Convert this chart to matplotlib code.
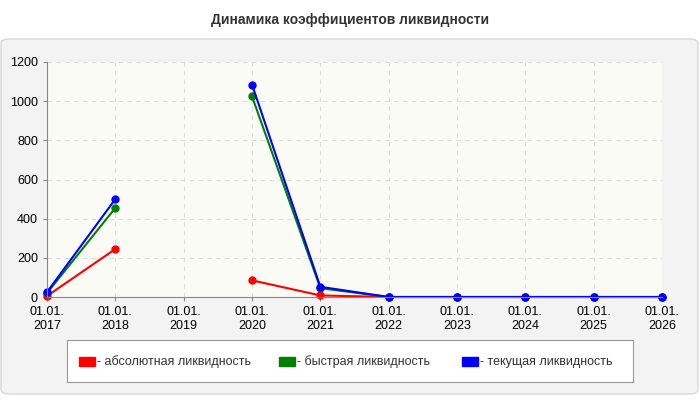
import numpy as np
import matplotlib
matplotlib.use("Agg")
import matplotlib.pyplot as plt
from matplotlib.patches import FancyBboxPatch

plt.rcParams["font.family"] = ["Liberation Sans", "DejaVu Sans"]

years = ["01.01.\n2017", "01.01.\n2018", "01.01.\n2019", "01.01.\n2020", "01.01.\n2021",
         "01.01.\n2022", "01.01.\n2023", "01.01.\n2024", "01.01.\n2025", "01.01.\n2026"]
absolute = [5, 245, np.nan, 85, 8, 0, 0, 0, 0, 0]
quick = [20, 455, np.nan, 1025, 45, 0, 0, 0, 0, 0]
current = [25, 500, np.nan, 1085, 52, 0, 0, 0, 0, 0]
labels = ["- абсолютная ликвидность", "- быстрая ликвидность", "- текущая ликвидность"]
colors = ["#ff0000", "#008000", "#0000ff"]

W, H = 700, 400
fig = plt.figure(figsize=(7, 4), dpi=100)
fig.patch.set_facecolor("white")

panel = FancyBboxPatch((1 / W, 6 / H), 697 / W, 355 / H, boxstyle="round,pad=0,rounding_size=0.012",
                       transform=fig.transFigure, facecolor="#f3f3f3", edgecolor="#d8d8d8", lw=1,
                       zorder=-10)
fig.patches.append(panel)
fig.text(0.5, 1 - 20 / H, "Динамика коэффициентов ликвидности", ha="center", va="center",
         fontsize=10, fontweight="bold", color="#333333")

ax = fig.add_axes([47 / W, 1 - 297 / H, 615 / W, 235 / H])
ax.set_facecolor("#fbfbf6")
x = np.arange(len(years))
for vals, c in zip([absolute, quick, current], colors):
    ax.plot(x, vals, color=c, lw=1.5, marker="o", ms=5, clip_on=False)
ax.set_xlim(0, 9)
ax.set_ylim(0, 1200)
ax.set_yticks(range(0, 1201, 200))
ax.set_xticks(x)
ax.set_xticklabels(years)
ax.tick_params(labelsize=9, length=3, color="#888888")
ax.grid(True, ls=(0, (4, 4)), color="#dddddd", lw=0.8)
for s in ["top", "right"]:
    ax.spines[s].set_visible(False)
for s in ["left", "bottom"]:
    ax.spines[s].set_color("#888888")

lax = fig.add_axes([67 / W, 1 - 382 / H, 566 / W, 42 / H])
lax.set_xlim(0, 566)
lax.set_ylim(0, 42)
lax.set_xticks([])
lax.set_yticks([])
lax.set_facecolor("white")
for s in lax.spines.values():
    s.set_color("#999999")
for px, lab, c in zip([12, 212, 395], labels, colors):
    lax.add_patch(plt.Rectangle((px, 16), 16, 9, color=c))
    lax.text(px + 18, 20, lab, va="center", fontsize=9, color="#333333")

fig.savefig("out.png", dpi=100)
